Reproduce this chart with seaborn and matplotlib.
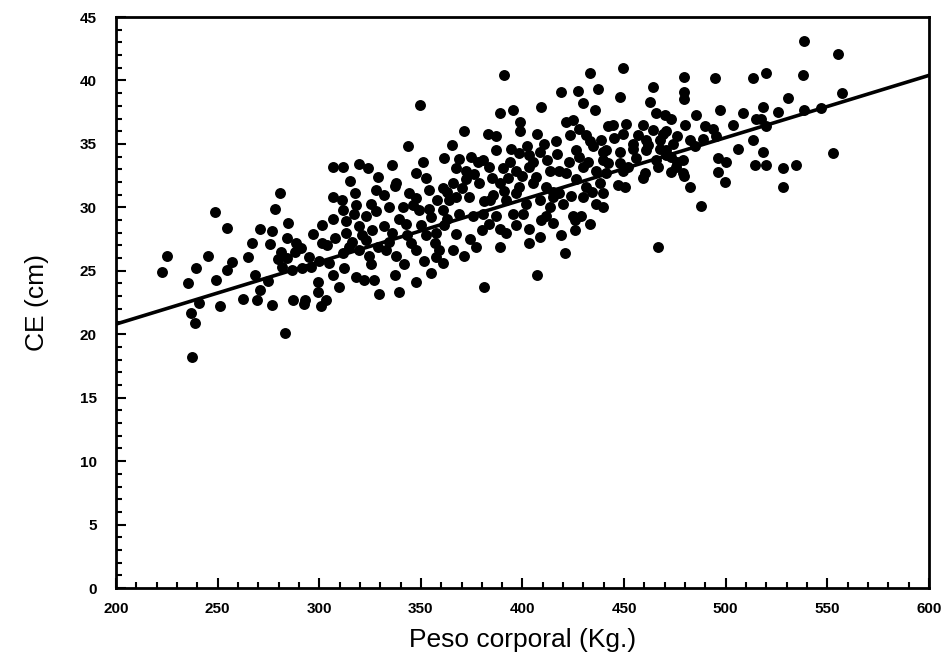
import matplotlib
matplotlib.use("Agg")
import matplotlib.pyplot as plt
import seaborn as sns
import pandas as pd
from matplotlib.ticker import MultipleLocator

# Scatter points: body weight (kg) and CE (cm)
peso = [
    280.8, 278.4, 248.7, 284.6, 254.8, 271.0, 276.7, 225.3, 245.1, 266.8, 275.9, 284.1, 264.8, 222.4,
    239.3, 256.9, 254.5, 235.6, 249.0, 268.5, 275.0, 271.0, 281.6, 286.6, 291.5, 288.2, 291.0, 241.0,
    236.9, 239.1, 237.2, 251.2, 262.7, 269.3, 276.7, 286.9, 293.2, 283.0, 281.0, 279.5, 284.0,
    343.5, 361.6, 306.9, 311.5, 319.4, 323.8, 335.6, 351.3, 347.6, 352.6, 315.3, 337.4, 317.7, 360.7,
    354.2, 306.6, 311.0, 327.9, 332.0, 325.4, 334.5, 341.0, 346.0, 347.6, 311.5, 306.6, 317.2, 323.0,
    327.9, 339.4, 342.7, 349.3, 354.2, 360.7, 361.6, 301.6, 297.0, 319.7, 332.0, 323.0, 334.5, 352.6,
    357.5, 288.5, 301.6, 314.8, 319.7, 332.8, 345.1, 347.6, 359.1,
    295.1, 300.0, 304.9, 311.5, 324.6, 306.6, 312.3, 318.0, 322.2, 327.1, 299.2, 309.9, 325.4, 341.9,
    337.4, 347.6, 339.4, 329.6, 299.2, 303.3, 300.8, 292.6, 351.7, 357.5, 360.7, 355.0, 349.6,
    391.1, 433.3, 419.0, 427.2, 437.1, 409.2, 429.7, 435.5, 389.0, 395.2, 421.5, 425.1, 398.9, 398.9,
    371.4, 382.9, 387.0, 407.0, 423.2, 431.4, 438.8, 442.0, 365.4, 410.8, 416.6, 374.7, 380.4, 387.0,
    394.4, 398.5, 403.4, 408.4, 426.4, 434.6, 439.5, 367.3, 372.3, 383.7, 390.3, 396.9, 403.4, 406.7,
    413.3, 418.2, 421.5, 429.7, 436.3, 441.2, 365.7, 372.3, 378.8, 388.7, 392.8, 398.5, 405.1, 411.7,
    426.4, 431.4, 437.9, 367.3, 373.9, 385.4, 392.0, 396.9, 401.8, 408.4, 413.3, 418.2, 419.9, 429.7,
    436.3, 439.5, 380.4, 387.0, 395.2, 400.1, 411.7, 424.8, 364.0, 369.0,
    375.5, 383.7, 388.7, 396.9, 367.3, 365.7, 377.2, 388.7, 371.4, 409.2, 414.9, 403.4, 408.7, 419.0,
    425.6, 428.9, 433.0, 425.6, 420.7, 407.0, 381.3,
    449.4, 479.3, 494.6, 513.4, 520.0, 464.2, 479.3, 479.3, 447.8, 462.6, 497.3, 485.5, 508.5, 518.3,
    465.8, 470.0, 473.3, 444.5, 451.1, 459.3, 479.8, 515.1, 520.0, 449.4, 464.2, 470.8, 493.7, 503.5,
    454.4, 460.9, 467.5, 474.0, 482.3, 488.8, 495.4, 513.4, 441.2, 447.8, 454.4, 460.9, 467.5, 470.8,
    506.0, 518.3, 470.8, 439.6, 447.8, 456.0, 465.8, 478.9, 475.7, 496.2, 500.3, 514.3, 520.0, 449.4,
    460.1, 466.6, 473.2, 478.9, 496.2, 459.3, 499.5, 450.2, 482.3, 439.6, 488.0, 466.6,
    538.4, 555.0, 538.1, 557.1, 530.4, 525.8, 538.4, 546.9, 517.3, 476.0, 479.3, 528.3, 534.7, 528.3,
    552.9,
    # overlapping points inside the dense blobs
    308.0, 313.0, 316.0, 321.0, 326.0, 329.0, 336.0, 338.0, 343.0, 350.0, 355.0, 358.0, 363.0, 338.0,
    344.0, 329.0, 313.0, 304.0, 296.0, 318.0,
    370.0, 376.0, 381.0, 385.0, 378.0, 369.0, 391.0, 394.0, 400.0, 402.0, 405.0, 412.0, 415.0, 417.0,
    423.0, 424.0, 428.0, 432.0, 434.0, 428.0, 433.0, 442.0, 445.0, 447.0, 452.0, 457.0, 462.0, 469.0,
    473.0, 476.0, 485.0, 490.0, 380.0, 374.0, 392.0, 403.0, 415.0, 363.0, 357.0, 384.0,
]
ce = [
    31.1, 29.9, 29.6, 28.8, 28.4, 28.3, 28.1, 26.2, 26.2, 27.2, 27.1, 27.6, 26.1, 24.9,
    25.2, 25.7, 25.1, 24.0, 24.3, 24.7, 24.2, 23.5, 25.3, 25.1, 25.2, 26.5, 26.8, 22.5,
    21.7, 20.9, 18.2, 22.2, 22.8, 22.7, 22.3, 22.7, 22.7, 20.1, 26.5, 25.9, 26.0,
    34.8, 33.9, 33.2, 33.2, 33.4, 33.1, 33.3, 33.6, 32.7, 32.3, 32.1, 31.7, 31.1, 31.5,
    31.4, 30.8, 30.6, 31.4, 31.0, 30.3, 30.0, 30.0, 30.2, 30.7, 29.8, 29.1, 29.5, 29.3,
    29.7, 29.1, 28.7, 29.8, 29.9, 29.8, 28.6, 28.6, 27.9, 28.5, 28.5, 27.4, 27.3, 27.8,
    28.0, 27.2, 27.2, 26.9, 26.6, 26.6, 27.2, 26.6, 26.6,
    26.1, 25.8, 25.6, 26.4, 26.2, 24.7, 25.2, 24.5, 24.3, 24.3, 24.1, 23.7, 25.5, 25.5,
    24.7, 24.1, 23.3, 23.2, 23.3, 22.7, 22.2, 22.4, 25.8, 26.1, 25.6, 24.8, 38.1,
    40.4, 40.6, 39.1, 39.2, 39.3, 37.9, 38.2, 37.7, 37.4, 37.7, 36.7, 36.9, 36.7, 36.0,
    36.0, 35.8, 35.6, 35.8, 35.7, 35.7, 35.3, 36.4, 34.9, 35.0, 35.2, 34.0, 33.7, 34.5,
    34.6, 34.3, 34.1, 34.4, 34.5, 34.8, 34.4, 33.1, 32.9, 33.2, 33.1, 32.9, 33.2, 32.4,
    32.9, 32.9, 32.7, 33.2, 32.9, 32.7, 31.9, 32.2, 31.9, 31.9, 32.3, 31.6, 31.9, 31.6,
    32.2, 31.6, 31.9, 30.8, 30.8, 31.0, 30.6, 31.1, 30.3, 30.6, 30.0, 31.1, 30.3, 30.8,
    30.3, 30.0, 29.5, 29.3, 29.5, 29.5, 29.3, 29.3, 30.6, 29.5,
    29.3, 28.7, 28.3, 28.6, 27.9, 26.6, 26.9, 26.9, 26.2, 29.0, 28.8, 27.2, 27.7, 27.8,
    29.0, 29.3, 28.7, 28.2, 26.4, 24.7, 23.7,
    41.0, 40.3, 40.2, 40.2, 40.6, 39.5, 39.1, 38.5, 38.7, 38.3, 37.7, 37.3, 37.4, 37.9,
    37.4, 37.3, 37.0, 36.5, 36.6, 36.5, 36.5, 37.0, 36.4, 35.8, 36.1, 36.0, 36.2, 36.5,
    35.0, 35.3, 35.3, 35.0, 35.3, 35.4, 35.6, 35.3, 34.5, 34.4, 34.6, 34.5, 34.6, 34.5,
    34.6, 34.4, 34.1, 33.7, 33.5, 33.9, 33.7, 33.7, 33.2, 33.9, 33.6, 33.3, 33.3, 32.9,
    32.7, 33.2, 32.8, 32.7, 32.8, 32.3, 32.0, 31.6, 31.6, 31.1, 30.1, 26.9,
    43.1, 42.1, 40.4, 39.0, 38.6, 37.5, 37.7, 37.8, 37.0, 33.6, 32.5, 33.1, 33.3, 31.6,
    34.3,
    27.6, 28.0, 27.3, 27.8, 28.2, 26.9, 28.0, 26.2, 27.8, 28.6, 29.2, 30.6, 31.2, 31.9,
    31.1, 32.4, 28.9, 27.0, 25.3, 30.2,
    31.5, 32.6, 30.5, 32.3, 33.6, 33.8, 31.3, 33.6, 32.5, 34.8, 33.6, 33.7, 31.2, 34.2,
    33.6, 30.9, 34.0, 33.6, 31.2, 36.2, 35.2, 33.5, 35.5, 31.8, 33.2, 35.7, 34.9, 35.8,
    34.0, 35.6, 34.8, 36.4, 28.2, 27.5, 28.0, 28.3, 30.8, 29.1, 27.2, 30.6,
]

# Regression line (endpoints at the axis limits)
line_x = [200, 600]
line_y = [20.8, 40.4]

x_ticks = [200, 250, 300, 350, 400, 450, 500, 550, 600]
y_ticks = [0, 5, 10, 15, 20, 25, 30, 35, 40, 45]

df = pd.DataFrame({"peso": peso, "ce": ce})
line_df = pd.DataFrame({"x": line_x, "y": line_y})

sns.set_theme(style="white")
plt.rcParams["font.family"] = ["Liberation Sans", "DejaVu Sans"]

fig = plt.figure(figsize=(9.46, 6.67), dpi=100)
ax = fig.add_axes([0.1226, 0.1184, 0.8594, 0.8561])

sns.scatterplot(data=df, x="peso", y="ce", ax=ax, color="black", s=62,
                linewidth=0, edgecolor="black", legend=False, zorder=3)
sns.lineplot(data=line_df, x="x", y="y", ax=ax, color="black", linewidth=2.6,
             legend=False, zorder=2)

ax.set_xlim(200, 600)
ax.set_ylim(0, 45)
ax.set_xticks(x_ticks)
ax.set_yticks(y_ticks)
ax.xaxis.set_minor_locator(MultipleLocator(10))
ax.yaxis.set_minor_locator(MultipleLocator(1))
ax.tick_params(axis="both", which="both", direction="in", top=False, right=False,
               bottom=True, left=True, color="black", width=1.5)
ax.tick_params(axis="both", which="major", length=7)
ax.tick_params(axis="both", which="minor", length=4)
ax.tick_params(axis="x", which="major", pad=10)
ax.tick_params(axis="y", which="major", pad=14)
for lab in ax.get_xticklabels() + ax.get_yticklabels():
    lab.set_fontweight("heavy")
    lab.set_fontsize(11)
    lab.set_color("black")

for sp in ax.spines.values():
    sp.set_color("black")
    sp.set_linewidth(2)
    sp.set_visible(True)

ax.set_xlabel("Peso corporal (Kg.)", fontsize=19, color="black", labelpad=9)
ax.set_ylabel("CE (cm)", fontsize=19, color="black", labelpad=22)

fig.savefig("out.png", dpi=100)
